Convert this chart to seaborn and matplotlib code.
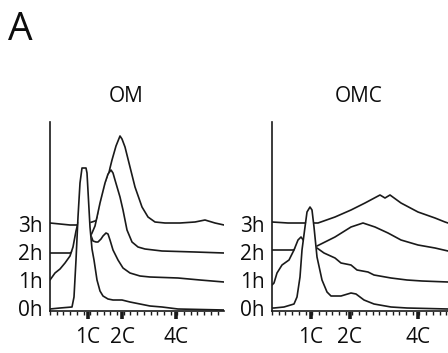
import matplotlib
matplotlib.use("Agg")
import matplotlib.pyplot as plt
import seaborn as sns
import pandas as pd
from matplotlib.ticker import FixedLocator, MultipleLocator

sns.set_theme(style="white")
plt.rcParams['font.family'] = ['Open Sans', 'DejaVu Sans']

# ---------------- data (channel position, stacked count height) ----------------
panel_titles = ["OM", "OMC"]
time_labels = ["0h", "1h", "2h", "3h"]
label_heights = [3, 31, 59, 87]
ploidy_labels = ["1C", "2C", "4C"]
om_ploidy_pos = [37.7, 72.3, 125.7]
omc_ploidy_pos = [39, 78, 146]

om_0h_x = [0, 10, 22, 24, 26, 28, 30, 32, 36, 37, 38, 40, 42, 44, 47, 50, 53, 58, 63, 72, 80, 90, 100, 112, 128, 174]
om_0h_y = [2, 3, 4, 14, 51, 94, 128, 143, 143, 138, 120, 84, 62, 51, 31, 20, 15, 12, 11, 11, 9, 7, 5, 4, 2, 1]

om_1h_x = [0, 5, 10, 15, 20, 23, 26, 28, 32, 36, 40, 43, 46, 48, 51, 53, 56, 58, 60, 63, 68, 73, 80, 90, 100, 128, 150, 174]
om_1h_y = [31, 38, 42, 48, 55, 64, 80, 88, 90, 86, 78, 70, 69, 69, 72, 75, 78, 77, 71, 61, 51, 43, 38, 35, 34, 33, 31, 29]

om_2h_x = [0, 10, 20, 25, 30, 35, 40, 42, 45, 47, 50, 55, 58, 61, 63, 65, 70, 73, 75, 77, 82, 88, 95, 112, 145, 174]
om_2h_y = [58, 58, 58, 60, 63, 68, 74, 78, 85, 94, 108, 128, 137, 141, 138, 131, 114, 101, 91, 81, 69, 64, 62, 60, 59, 58]

om_3h_x = [0, 10, 20, 27, 32, 38, 42, 45, 47, 50, 55, 60, 62, 66, 70, 72, 75, 80, 85, 92, 98, 105, 115, 130, 145, 155, 165, 174]
om_3h_y = [88, 87, 86, 86, 87, 88, 89, 90, 91, 100, 120, 143, 151, 165, 175, 172, 164, 144, 124, 104, 94, 89, 88, 88, 89, 91, 88, 86]

omc_0h_x = [0, 2, 12, 22, 25, 28, 30, 33, 35, 38, 40, 42, 45, 50, 55, 59, 69, 79, 84, 92, 102, 119, 135, 176]
omc_0h_y = [3, 3, 4, 7, 14, 34, 61, 84, 99, 104, 101, 84, 54, 31, 19, 15, 15, 18, 17, 11, 7, 4, 3, 2]

omc_1h_x = [0, 2, 5, 10, 17, 22, 26, 29, 32, 36, 40, 45, 52, 63, 69, 79, 85, 96, 102, 119, 135, 150, 176]
omc_1h_y = [26, 28, 38, 46, 51, 61, 71, 74, 70, 67, 65, 63, 58, 53, 48, 46, 41, 39, 36, 33, 31, 30, 29]

omc_2h_x = [0, 10, 21, 25, 30, 35, 40, 45, 51, 63, 79, 91, 103, 116, 129, 146, 163, 176]
omc_2h_y = [61, 61, 61, 62, 62, 63, 64, 65, 68, 74, 84, 88, 84, 78, 71, 66, 63, 60]

omc_3h_x = [0, 16, 33, 40, 46, 63, 79, 93, 108, 113, 118, 129, 146, 163, 173, 176]
omc_3h_y = [89, 88, 88, 88, 88, 94, 101, 108, 116, 113, 116, 108, 99, 93, 89, 88]

om_series = [(om_0h_x, om_0h_y), (om_1h_x, om_1h_y), (om_2h_x, om_2h_y), (om_3h_x, om_3h_y)]
omc_series = [(omc_0h_x, omc_0h_y), (omc_1h_x, omc_1h_y), (omc_2h_x, omc_2h_y), (omc_3h_x, omc_3h_y)]

# ---------------- figure ----------------
W, H = 448, 353
fig = plt.figure(figsize=(W / 100, H / 100), dpi=100)
fig.patch.set_facecolor("white")

def px_axes(x0, x1, ytop, ybot):
    return fig.add_axes([x0 / W, 1 - ybot / H, (x1 - x0) / W, (ybot - ytop) / H])

ax_om = px_axes(50, 224, 122, 311)
ax_omc = px_axes(272, 448, 122, 311)

line_color = "#1a1a1a"
text_color = "#0d0d0d"

def draw_panel(ax, series, title, ticks_pos, xmax, title_x):
    # back to front: 3h, 2h, 1h, 0h
    for i in range(len(series) - 1, -1, -1):
        xs, ys = series[i]
        df = pd.DataFrame({"x": xs, "y": ys})
        z = 1.0 + (len(series) - 1 - i) * 0.2
        ax.fill_between(df["x"], df["y"], 0, color="white", zorder=z, linewidth=0)
        sns.lineplot(data=df, x="x", y="y", ax=ax, color=line_color,
                     linewidth=1.2, zorder=z + 0.1, sort=False)
    ax.set_xlim(0, xmax)
    ax.set_ylim(0, 189)
    ax.set_xlabel("")
    ax.set_ylabel("")
    ax.set_facecolor("white")
    for s in ["top", "right"]:
        ax.spines[s].set_visible(False)
    for s in ["left", "bottom"]:
        ax.spines[s].set_color(line_color)
        ax.spines[s].set_linewidth(1.2)
        ax.spines[s].set_zorder(5)
    ax.xaxis.set_major_locator(FixedLocator(ticks_pos))
    ax.set_xticklabels(ploidy_labels)
    ax.xaxis.set_minor_locator(MultipleLocator(6.7))
    ax.tick_params(axis="x", which="major", direction="out", length=5.5, width=2.6,
                   color=line_color, labelsize=15, labelcolor=text_color, pad=6, bottom=True)
    ax.tick_params(axis="x", which="minor", direction="out", length=3, width=1.0,
                   color=line_color, bottom=True)
    ax.set_yticks(label_heights)
    ax.set_yticklabels(time_labels)
    ax.tick_params(axis="y", which="both", length=0, labelsize=15, labelcolor=text_color, pad=5)
    ax.text(title_x, 1.08, title, transform=ax.transAxes, ha="center", va="bottom",
            fontsize=15, color=text_color)

draw_panel(ax_om, om_series, panel_titles[0], om_ploidy_pos, 174, 0.44)
draw_panel(ax_omc, omc_series, panel_titles[1], omc_ploidy_pos, 176, 0.49)

fig.text(8 / W, 1 - 40 / H, "A", fontsize=28, ha="left", va="baseline", color=text_color)

fig.savefig("out.png", dpi=100, facecolor="white")
